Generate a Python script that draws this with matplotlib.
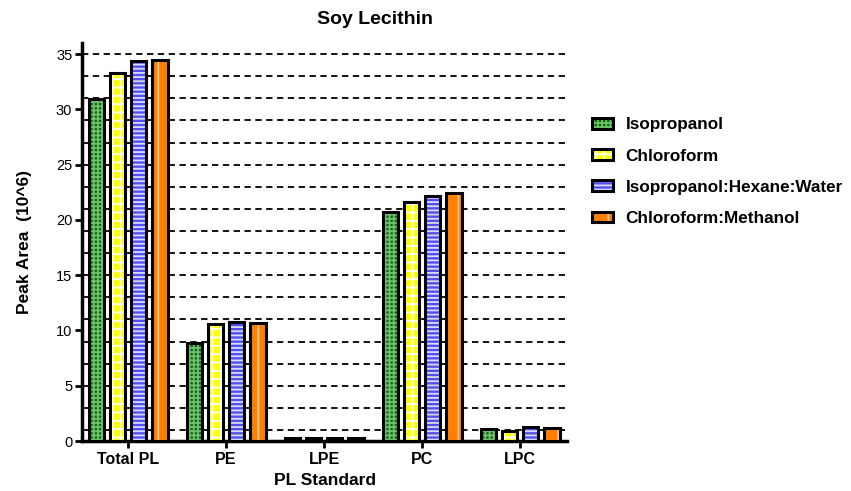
import matplotlib
matplotlib.use("Agg")
import matplotlib.pyplot as plt
import numpy as np
from matplotlib.patches import Patch

plt.rcParams['font.family'] = ['Liberation Sans', 'DejaVu Sans']
plt.rcParams['hatch.linewidth'] = 1.3

categories = ["Total PL", "PE", "LPE", "PC", "LPC"]
series_names = ["Isopropanol", "Chloroform", "Isopropanol:Hexane:Water", "Chloroform:Methanol"]
isopropanol = [30.9, 8.9, 0.3, 20.7, 1.1]
chloroform = [33.3, 10.6, 0.3, 21.6, 0.9]
iso_hex_water = [34.4, 10.8, 0.3, 22.2, 1.25]
chloro_methanol = [34.5, 10.7, 0.3, 22.4, 1.15]
series_values = [isopropanol, chloroform, iso_hex_water, chloro_methanol]

face_colors = ["#0a6a0a", "#ffff00", "#5050f2", "#ff8000"]
hatch_colors = ["#70c070", "#ffffff", "#dcdcff", "#ffc890"]
hatches = ["++++", "++", "----", "|"]

fig = plt.figure(figsize=(8.51, 4.91), dpi=100)
ax = fig.add_axes([0.0964, 0.1018, 0.570, 0.8105])

x = np.arange(len(categories))
pitch = 0.215
width = 0.16

for i, vals in enumerate(series_values):
    pos = x + (i - 1.5) * pitch
    ax.bar(pos, vals, width, color=face_colors[i], hatch=hatches[i],
           edgecolor=hatch_colors[i], linewidth=0, zorder=3)
    ax.bar(pos, vals, width, facecolor="none", edgecolor="black",
           linewidth=2.2, zorder=4)

# dashed reference lines at odd values
for yv in np.arange(1, 36, 2):
    ax.axhline(yv, color="black", linestyle=(0, (3.5, 2.5)), linewidth=1.3, zorder=1)

ax.set_xlim(-0.47, 4.48)
ax.set_ylim(0, 36)
ax.set_yticks(np.arange(0, 36, 5))
ax.set_xticks(x)
ax.set_xticklabels(categories, fontweight="bold", fontsize=11.5)
ax.tick_params(axis="y", labelsize=10.5, width=2, length=5, pad=2)
ax.tick_params(axis="x", width=2, length=5, pad=3)

for side in ["top", "right"]:
    ax.spines[side].set_visible(False)
for side in ["left", "bottom"]:
    ax.spines[side].set_linewidth(2.5)

ax.set_xlabel("PL Standard", fontweight="bold", fontsize=12.5, labelpad=4)
ax.set_ylabel("Peak Area  (10^6)", fontweight="bold", fontsize=12.5, labelpad=17)
fig.text(375 / 851, 1 - 19 / 491, "Soy Lecithin", ha="center", va="center",
         fontweight="bold", fontsize=14)

handles = [(Patch(facecolor=face_colors[i], hatch=hatches[i], edgecolor=hatch_colors[i],
                  linewidth=0),
            Patch(facecolor="none", edgecolor="black", linewidth=2.2))
           for i in range(4)]
leg = fig.legend(handles, series_names, loc="upper left",
                 bbox_to_anchor=(577 / 851, 1 - 102 / 491), frameon=False,
                 prop={"weight": "bold", "size": 12.3}, handlelength=1.2,
                 handleheight=0.6, labelspacing=0.95, handletextpad=0.75)

fig.savefig("out.png", dpi=100)
